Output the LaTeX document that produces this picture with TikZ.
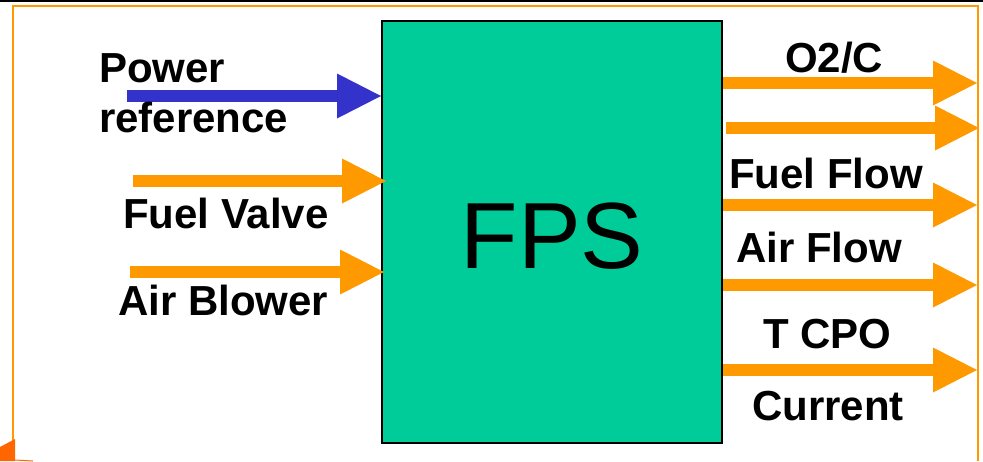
\documentclass[tikz,border=0pt]{standalone}
\usepackage{fontspec}
\setmainfont{Liberation Sans}
\usetikzlibrary{arrows.meta}
\definecolor{flowor}{HTML}{FF9900}
\definecolor{refblue}{HTML}{3333CC}
\definecolor{fpsgreen}{HTML}{00CC99}
\definecolor{cornerorange}{HTML}{FF6600}
\tikzset{
  sig/.style={line width=12pt, draw=flowor,
    -{Triangle[length=44pt,width=45pt,line width=0pt]}},
  refsig/.style={sig, draw=refblue},
  lbl/.style={font=\fontsize{42}{46}\selectfont\bfseries, inner sep=0pt, anchor=base west},
  block/.style={draw=black, line width=2pt, fill=fpsgreen,
    minimum width=340pt, minimum height=422pt, inner sep=0pt}
}
\begin{document}
\begin{tikzpicture}[x=1pt,y=-1pt]
\useasboundingbox (0,0) rectangle (983,461);
% page edge and slide frame
\draw[black, line width=2.5pt] (0,1) -- (983,1);
\draw[flowor, line width=1.5pt] (13,461) -- (13,6) -- (978,6) -- (978,461);
\fill[cornerorange] (0,447) -- (15,439) -- (15,461) -- (0,461) -- cycle;
\draw[cornerorange, line width=1pt] (15,460) -- (33,461);

% central block
\node[block] (fps) at (552,232) {};
\node[font=\fontsize{94}{100}\selectfont, inner sep=0pt, anchor=base] (fpslbl) at (552,268) {FPS};

% inputs
\coordinate (pwr) at (127,96);
\coordinate (fv) at (133,181);
\coordinate (ab) at (130,272);
\draw[refsig] (pwr) -- (fps.west |- pwr);
\draw[sig] (fv) -- ([xshift=5pt]fps.west |- fv);
\draw[sig] (ab) -- ([xshift=3pt]fps.west |- ab);

\node[lbl] (l1) at (99,82) {Power};
\node[lbl] (l2) at (99,132) {reference};
\node[lbl] (l3) at (123,228) {Fuel Valve};
\node[lbl] (l4) at (118,315) {Air Blower};

% outputs
\coordinate (o1) at (977,83);
\coordinate (o2) at (979,128);
\coordinate (o3) at (977,205);
\coordinate (o4) at (977,285);
\coordinate (o5) at (977,370);
\draw[sig] (fps.east |- o1) -- (o1);
\draw[sig] ([xshift=3pt]fps.east |- o2) -- (o2);
\draw[sig] (fps.east |- o3) -- (o3);
\draw[sig] (fps.east |- o4) -- (o4);
\draw[sig] (fps.east |- o5) -- (o5);

\node[lbl] (r1) at (785,72) {O2/C};
\node[lbl] (r2) at (729,188) {Fuel Flow};
\node[lbl] (r3) at (736,262) {Air Flow};
\node[lbl] (r4) at (763,348) {T CPO};
\node[lbl] (r5) at (752,420) {Current};
\end{tikzpicture}
\end{document}
